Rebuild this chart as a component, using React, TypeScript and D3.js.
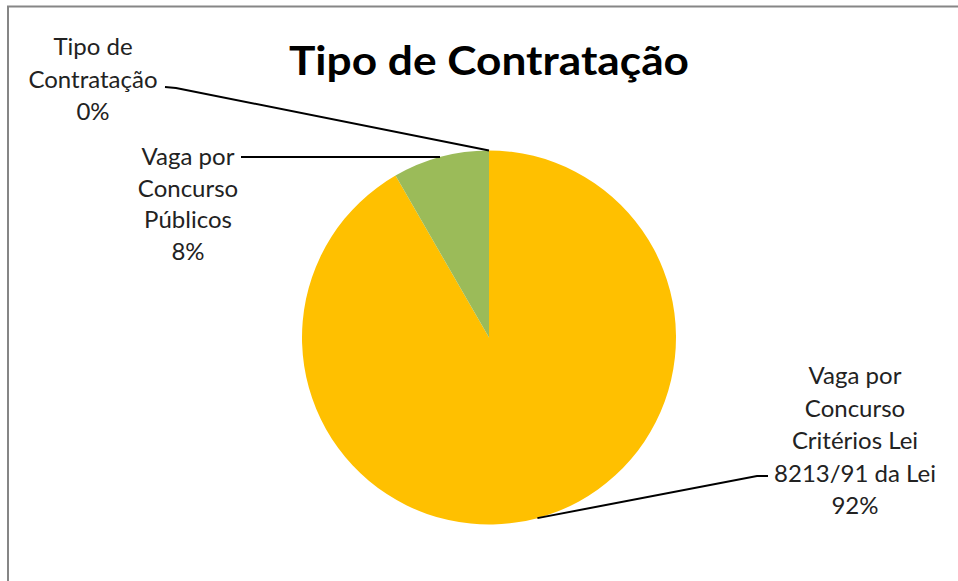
import React from "react";
import * as d3 from "d3";

const categories = ["Tipo de Contratação", "Vaga por Concurso Critérios Lei 8213/91 da Lei", "Vaga por Concurso Públicos"];
const values = [0, 11, 1];
const labelLines = [
  ["Tipo de", "Contratação", "0%"],
  ["Vaga por", "Concurso", "Critérios Lei", "8213/91 da Lei", "92%"],
  ["Vaga por", "Concurso", "Públicos", "8%"],
];
const colors = ["#4F81BD", "#FFC000", "#9BBB59"];
const title = "Tipo de Contratação";

const W = 958, H = 581;
const cx = 489, cy = 337.5, R = 187;
const FONT = "Lato, 'Open Sans', sans-serif";

const labelLayout = [
  { x: 93, y: 55, lh: 32.5, elbow: [[165, 87], [176, 88]] },
  { x: 855, y: 384, lh: 32.5, elbow: [[768, 476], [757, 476]] },
  { x: 188, y: 165, lh: 31.5, elbow: [[241, 157], [440, 157]] },
];

export default function App() {
  const pie = d3.pie<number>().sort(null).startAngle(0).endAngle(2 * Math.PI);
  const arcs = pie(values);
  const arcGen = d3.arc<d3.PieArcDatum<number>>().innerRadius(0).outerRadius(R);
  const anchorFor = (a: d3.PieArcDatum<number>, i: number) => {
    if (i === 2) return null;
    const ang = (a.startAngle + a.endAngle) / 2;
    return [cx + R * Math.sin(ang), cy - R * Math.cos(ang)];
  };
  return (
    <svg width={W} height={H} style={{ position: "absolute", left: 0, top: 0 }}>
      <rect x={0} y={0} width={W} height={H} fill="#fff" />
      <rect x={8} y={6.5} width={W + 20} height={H + 20} fill="#fff" stroke="#868686" strokeWidth={2} />
      <text x={489} y={75} textAnchor="middle" fontFamily={FONT} fontWeight={700} fontSize={40} textLength={400} lengthAdjust="spacingAndGlyphs" fill="#000">
        {title}
      </text>
      <g transform={`translate(${cx},${cy})`}>
        {arcs.map((a, i) => (
          <path key={categories[i]} d={arcGen(a) || ""} fill={colors[i]} />
        ))}
      </g>
      {arcs.map((a, i) => {
        const L = labelLayout[i];
        const anc = anchorFor(a, i);
        let pts: number[][] = L.elbow.slice();
        if (anc) pts = [...L.elbow, anc];
        const line = d3.line();
        return (
          <g key={"l" + i}>
            <path d={line(pts as [number, number][]) || ""} fill="none" stroke="#000" strokeWidth={2} />
            <text textAnchor="middle" fontFamily={FONT} fontSize={24} fill="#222">
              {labelLines[i].map((t, j) => (
                <tspan key={j} x={L.x} y={L.y + j * L.lh}>{t}</tspan>
              ))}
            </text>
          </g>
        );
      })}
    </svg>
  );
}
